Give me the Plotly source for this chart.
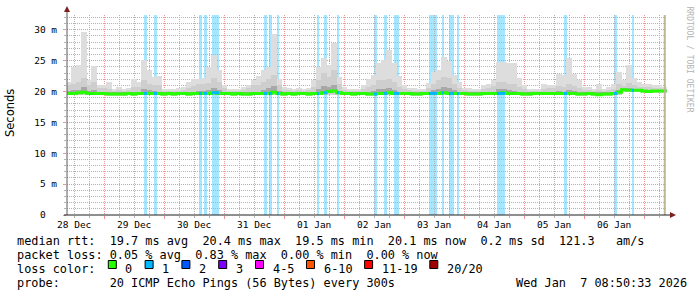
import plotly.graph_objects as go

# ---------------- data ----------------
day_labels = ["28 Dec", "29 Dec", "30 Dec", "31 Dec", "01 Jan",
              "02 Jan", "03 Jan", "04 Jan", "05 Jan", "06 Jan"]
day_hours = [0, 24, 48, 72, 96, 120, 144, 168, 192, 216]   # hours since 28 Dec 00:00

# centre of each 2-hour bin (hours since 28 Dec 00:00)
bin_hours = [-2 + 2 * k for k in range(120)]

median_ms = [
    19.7, 19.7, 19.8, 19.9, 19.7, 19.7, 19.7, 19.7, 19.6, 19.6,
    19.6, 19.6, 19.7, 19.6, 19.7, 19.7, 19.7, 19.7, 19.7, 19.6,
    19.7, 19.6, 19.7, 19.7, 19.6, 19.7, 19.7, 19.7, 19.7, 19.8,
    19.7, 19.7, 19.7, 19.6, 19.7, 19.6, 19.6, 19.7, 19.7, 19.7,
    19.7, 19.9, 19.7, 19.6, 19.7, 19.6, 19.7, 19.7, 19.6, 19.7,
    19.7, 19.8, 20.0, 20.1, 19.8, 19.7, 19.7, 19.6, 19.7, 19.7,
    19.6, 19.6, 19.7, 19.7, 19.8, 19.7, 19.7, 19.7, 19.7, 19.6,
    19.6, 19.7, 19.7, 19.7, 19.7, 19.8, 19.7, 19.7, 19.7, 19.7,
    19.6, 19.6, 19.6, 19.7, 19.7, 19.7, 19.7, 19.8, 19.7, 19.7,
    19.7, 19.6, 19.6, 19.7, 19.7, 19.7, 19.7, 19.7, 19.7, 19.7,
    19.7, 19.7, 19.6, 19.6, 19.7, 19.6, 19.5, 19.6, 19.6, 19.7,
    19.9, 20.3, 20.2, 20.2, 20.2, 20.1, 20.0, 20.1, 20.1, 20.1,
]

smoke_min_ms = [
    19.4, 19.4, 19.4, 19.4, 19.4, 19.4, 19.4, 19.4, 19.3, 19.3,
    19.3, 19.3, 19.4, 19.3, 19.4, 19.4, 19.4, 19.4, 19.4, 19.3,
    19.4, 19.3, 19.4, 19.4, 19.3, 19.4, 19.4, 19.4, 19.4, 19.4,
    19.4, 19.4, 19.4, 19.3, 19.4, 19.3, 19.3, 19.4, 19.4, 19.4,
    19.4, 19.4, 19.4, 19.3, 19.4, 19.3, 19.4, 19.4, 19.3, 19.4,
    19.4, 19.4, 19.5, 19.5, 19.4, 19.4, 19.4, 19.3, 19.4, 19.4,
    19.3, 19.3, 19.4, 19.4, 19.4, 19.4, 19.4, 19.4, 19.4, 19.3,
    19.3, 19.4, 19.4, 19.4, 19.4, 19.4, 19.4, 19.4, 19.4, 19.4,
    19.3, 19.3, 19.3, 19.4, 19.4, 19.4, 19.4, 19.4, 19.4, 19.4,
    19.4, 19.3, 19.3, 19.4, 19.4, 19.4, 19.4, 19.4, 19.4, 19.4,
    19.4, 19.4, 19.3, 19.3, 19.4, 19.3, 19.3, 19.3, 19.3, 19.4,
    19.5, 19.9, 19.9, 19.9, 19.9, 19.8, 19.8, 19.8, 19.8, 19.8,
]

smoke_dark_ms = [
    20.1, 20.2, 20.3, 20.7, 20.1, 20.2, 19.9, 19.9, 19.9, 19.9,
    19.9, 19.9, 19.9, 20.0, 20.0, 20.4, 20.2, 20.1, 20.0, 19.9,
    19.9, 19.9, 19.9, 19.9, 19.9, 20.0, 20.1, 20.1, 20.2, 20.5,
    20.2, 19.9, 19.9, 19.9, 19.9, 19.9, 19.9, 20.0, 20.0, 20.3,
    20.5, 20.9, 20.1, 19.9, 19.9, 19.9, 19.9, 19.9, 19.9, 20.0,
    20.4, 20.9, 20.8, 21.1, 20.1, 19.9, 19.9, 19.9, 19.9, 19.9,
    20.0, 20.1, 20.4, 20.4, 20.5, 20.3, 20.0, 19.9, 19.9, 19.9,
    19.9, 19.9, 19.9, 20.2, 20.4, 20.8, 20.6, 20.2, 19.9, 19.9,
    19.9, 19.9, 19.9, 19.9, 19.9, 20.0, 20.4, 20.4, 20.2, 20.1,
    20.0, 19.9, 19.9, 19.9, 19.9, 19.9, 19.9, 19.9, 20.1, 20.0,
    20.2, 20.1, 19.9, 19.9, 19.9, 19.9, 19.9, 19.9, 19.9, 19.9,
    20.2, 20.5, 20.6, 20.4, 20.3, 20.2, 20.2, 20.2, 20.2, 20.2,
]

smoke_mid_ms = [
    21.0, 21.3, 21.5, 22.2, 21.1, 21.5, 20.6, 20.5, 20.4, 20.1,
    20.2, 20.1, 20.2, 20.8, 20.8, 21.9, 21.2, 21.0, 21.0, 20.1,
    20.1, 20.1, 20.1, 20.2, 20.6, 20.9, 21.2, 21.2, 21.4, 22.2,
    21.5, 20.5, 20.1, 20.1, 20.1, 20.2, 20.5, 21.0, 21.0, 21.5,
    22.0, 22.6, 21.0, 20.3, 20.2, 20.1, 20.2, 20.1, 20.2, 20.8,
    21.8, 23.0, 22.4, 23.5, 21.2, 20.3, 20.1, 20.1, 20.1, 20.4,
    20.8, 21.0, 21.9, 21.9, 22.0, 21.6, 20.8, 20.4, 20.2, 20.1,
    20.1, 20.1, 20.6, 21.2, 21.8, 22.4, 22.2, 21.2, 20.5, 20.2,
    20.1, 20.1, 20.1, 20.4, 20.6, 20.9, 21.5, 21.5, 21.3, 21.2,
    20.8, 20.4, 20.1, 20.1, 20.1, 20.4, 20.5, 20.5, 20.9, 20.8,
    21.2, 20.9, 20.6, 20.3, 20.2, 20.1, 20.3, 20.1, 20.2, 20.4,
    21.2, 20.9, 21.4, 21.0, 20.8, 20.7, 20.7, 20.6, 20.5, 20.4,
]

smoke_max_ms = [
    21.5, 24.0, 24.3, 29.7, 21.8, 24.1, 21.1, 21.1, 21.5, 20.4,
    20.8, 20.4, 20.6, 22.0, 21.6, 25.1, 23.5, 22.4, 22.5, 20.4,
    20.4, 20.4, 20.6, 20.8, 21.6, 22.0, 22.0, 22.2, 24.0, 25.9,
    23.5, 21.1, 20.4, 20.4, 20.4, 20.8, 21.1, 21.9, 22.5, 23.5,
    24.0, 29.4, 22.0, 20.8, 20.6, 20.4, 20.6, 20.4, 20.6, 21.9,
    24.0, 25.5, 24.3, 27.8, 22.4, 20.8, 20.4, 20.4, 20.4, 21.1,
    22.0, 22.6, 24.6, 25.1, 26.7, 24.6, 22.5, 21.1, 20.5, 20.5,
    20.4, 20.4, 21.4, 23.2, 23.5, 25.6, 25.0, 22.6, 21.5, 20.5,
    20.5, 20.4, 20.4, 21.1, 21.3, 21.9, 24.8, 24.8, 24.6, 24.6,
    22.2, 21.1, 20.4, 20.4, 20.4, 21.3, 21.1, 21.1, 22.9, 22.6,
    25.5, 22.9, 21.9, 20.8, 20.8, 20.4, 21.3, 20.4, 20.8, 21.3,
    23.2, 21.9, 24.3, 22.2, 21.5, 21.3, 21.3, 21.0, 21.0, 20.8,
]

# periods with packet loss (hours since 28 Dec 00:00), loss = pings lost of 20
loss_start_h = [28.0, 32.0, 50.0, 52.0, 55.2, 76.0, 78.0, 81.2, 97.2, 100.0, 105.2,
                120.0, 124.0, 128.0, 142.0, 147.2, 150.0, 153.2, 169.2, 196.0, 216.0, 223.2]
loss_end_h = [29.2, 33.2, 51.2, 53.2, 58.0, 77.2, 79.2, 82.0, 98.0, 101.2, 106.0,
              121.2, 125.2, 130.0, 145.2, 148.0, 152.0, 154.0, 172.4, 197.2, 217.2, 224.0]
loss_pings = [1, 1, 1, 1, 1, 1, 1, 1, 1, 1, 1,
              1, 1, 1, 1, 1, 1, 1, 1, 1, 1, 1]

now_h = 236.3

y_tick_vals = [0, 5, 10, 15, 20, 25, 30]
y_tick_text = ["0  ", "5 m", "10 m", "15 m", "20 m", "25 m", "30 m"]

loss_labels = ["0", "1", "2", "3", "4-5", "6-10", "11-19", "20/20"]
loss_colors = ["#26ff00", "#00b8ff", "#0059ff", "#7e00ff",
               "#ff00ff", "#ff5500", "#ff0000", "#a10000"]
loss_bar_colors = {1: "#a6e6ff"}

legend_lines = [
    "median rtt:  19.7 ms avg  20.4 ms max  19.5 ms min  20.1 ms now  0.2 ms sd  121.3   am/s",
    "packet loss: 0.05 % avg  0.83 % max  0.00 % min  0.00 % now",
    "loss color:",
    "probe:       20 ICMP Echo Pings (56 Bytes) every 300s",
]
stamp = "Wed Jan  7 08:50:33 2026"

# ---------------- figure ----------------
MONO = "DejaVu Sans Mono"
W, H = 697, 297
L, R, T, B = 67, 30, 15, 82
PW, PH = W - L - R, H - T - B


def px(x):
    return (x - L) / PW


def py(y):
    return (H - B - y) / PH


def nb(s):
    return s.replace(" ", "\u00a0")


fig = go.Figure()

# loss background bars
for s, e, n in zip(loss_start_h, loss_end_h, loss_pings):
    fig.add_shape(type="rect", xref="x", yref="paper", x0=s, x1=e, y0=0, y1=1,
                  fillcolor=loss_bar_colors[n], line_width=0, layer="between")

# smoke
fig.add_bar(x=bin_hours, y=[a - b for a, b in zip(smoke_max_ms, smoke_min_ms)],
            base=smoke_min_ms, width=2.04,
            marker=dict(color="#dddddd", line_width=0), hoverinfo="skip")
fig.add_bar(x=bin_hours, y=[a - b for a, b in zip(smoke_mid_ms, smoke_min_ms)],
            base=smoke_min_ms, width=2.04,
            marker=dict(color="#cecece", line_width=0), hoverinfo="skip")
fig.add_bar(x=bin_hours, y=[a - b for a, b in zip(smoke_dark_ms, median_ms)],
            base=median_ms, width=2.04,
            marker=dict(color="#a8a8a8", line_width=0), hoverinfo="skip")

# median line
edges = [c - 1 for c in bin_hours] + [bin_hours[-1] + 1]
fig.add_scatter(x=edges, y=median_ms + [median_ms[-1]], mode="lines",
                line=dict(shape="hv", color=loss_colors[0], width=3), hoverinfo="skip")

# median coloured by loss
lx, ly = [], []
for s, e in zip(loss_start_h, loss_end_h):
    k = min(int((s + 3) // 2), len(median_ms) - 1)
    lx += [s, e, None]
    ly += [median_ms[k], median_ms[k], None]
fig.add_scatter(x=lx, y=ly, mode="lines", line=dict(color=loss_colors[1], width=3),
                hoverinfo="skip")

# now line
fig.add_shape(type="line", xref="x", yref="paper", x0=now_h, x1=now_h, y0=0, y1=1,
              line=dict(color="#bcb894", width=2), layer="above")

# axis lines + arrows
fig.add_shape(type="line", xref="paper", yref="paper", x0=px(67), x1=px(67),
              y0=py(215), y1=py(11), line=dict(color="#5a5a5a", width=1))
fig.add_shape(type="line", xref="paper", yref="paper", x0=px(64), x1=px(671),
              y0=py(215), y1=py(215), line=dict(color="#1f1f1f", width=1))
fig.add_shape(type="path", xref="paper", yref="paper",
              path=f"M {px(64)} {py(12)} L {px(70)} {py(12)} L {px(67)} {py(6)} Z",
              fillcolor="#801f1f", line_width=0)
fig.add_shape(type="path", xref="paper", yref="paper",
              path=f"M {px(670)} {py(212)} L {px(670)} {py(218)} L {px(676)} {py(215)} Z",
              fillcolor="#801f1f", line_width=0)

ann = []
# date labels on the time axis
for h, lab in zip(day_hours, day_labels):
    ann.append(dict(text=lab, x=h, y=py(224.5), xref="x", yref="paper",
                    showarrow=False, xanchor="center", yanchor="middle",
                    font=dict(family=MONO, size=9.5, color="black")))

ann.append(dict(text="Seconds", x=px(10), y=py(113), xref="paper", yref="paper",
                textangle=-90, showarrow=False, xanchor="center", yanchor="middle",
                font=dict(family="DejaVu Sans", size=11.5, color="black")))
ann.append(dict(text=nb("RRDTOOL / TOBI OETIKER"), x=px(688.5), y=py(59),
                xref="paper", yref="paper", textangle=90, showarrow=False,
                xanchor="center", yanchor="middle",
                font=dict(family=MONO, size=8, color="#b4b4b4")))

line_y = [241, 255, 268.5, 283]
for txt, yy in zip(legend_lines, line_y):
    ann.append(dict(text=nb(txt), x=px(14.6), y=py(yy), xref="paper", yref="paper",
                    showarrow=False, xanchor="left", yanchor="middle",
                    font=dict(family=MONO, size=11.85, color="black")))
ann.append(dict(text=nb(stamp), x=px(513.5), y=py(line_y[3]), xref="paper", yref="paper",
                showarrow=False, xanchor="left", yanchor="middle",
                font=dict(family=MONO, size=11.85, color="black")))

bx = 108.3
for lab, col in zip(loss_labels, loss_colors):
    fig.add_shape(type="rect", xref="paper", yref="paper",
                  x0=px(bx), x1=px(bx + 8), y0=py(260.5), y1=py(268.5),
                  fillcolor=col, line=dict(color="black", width=1))
    ann.append(dict(text=nb(lab), x=px(bx + 15), y=py(line_y[2]), xref="paper",
                    yref="paper", showarrow=False, xanchor="left", yanchor="middle",
                    font=dict(family=MONO, size=11.85, color="black")))
    bx += 29.7 + 7.1 * len(lab)

fig.update_layout(
    width=W, height=H, margin=dict(l=L, r=R, t=T, b=B, pad=0),
    paper_bgcolor="white", plot_bgcolor="white",
    barmode="overlay", bargap=0, showlegend=False,
    font=dict(family=MONO, size=9.5, color="black"),
    annotations=ann,
    xaxis=dict(range=[-2.8, 237.2], tickmode="linear", tick0=12, dtick=24,
               showticklabels=False, ticks="outside", ticklen=3, tickcolor="#eb9595",
               showgrid=True, gridcolor="#eb9595", griddash="1px,1px", gridwidth=1,
               zeroline=False, showline=False,
               minor=dict(tick0=0, dtick=6, showgrid=True, gridcolor="#b4b4b4",
                          griddash="1px,1px", ticks="outside", ticklen=2,
                          tickcolor="#b4b4b4")),
    yaxis=dict(range=[0, 32.4], tickmode="array", tickvals=y_tick_vals,
               ticktext=[nb(t) for t in y_tick_text],
               ticks="outside", ticklen=3, tickcolor="#eb9595",
               showgrid=True, gridcolor="#eb9595", griddash="1px,1px", gridwidth=1,
               zeroline=False, showline=False, ticklabelstandoff=4,
               tickfont=dict(family=MONO, size=9.5, color="black"),
               minor=dict(dtick=1, showgrid=True, gridcolor="#b4b4b4",
                          griddash="1px,1px", ticks="outside", ticklen=2,
                          tickcolor="#b4b4b4")),
)

fig.write_html("out.html")
